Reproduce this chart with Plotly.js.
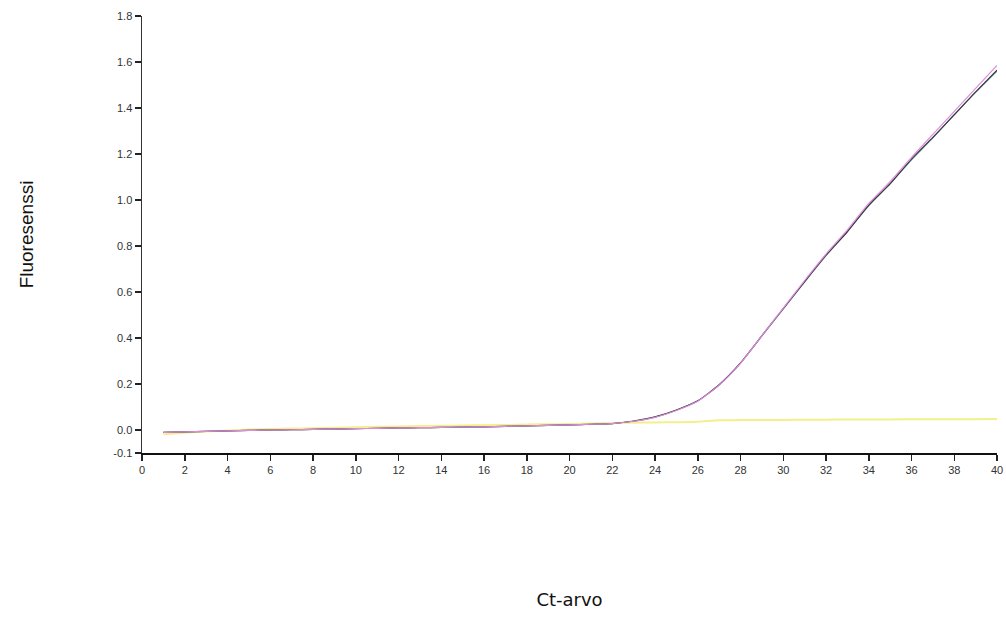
<!DOCTYPE html>
<html>
<head>
<meta charset="utf-8">
<script src="https://cdn.plot.ly/plotly-3.0.1.min.js"></script>
<style>html,body{margin:0;padding:0;background:#fff;}#chart{width:1006px;height:628px;}</style>
</head>
<body>
<div id="chart"></div>
<script>
// Cycle numbers
const cycles = [1,2,3,4,5,6,7,8,9,10,11,12,13,14,15,16,17,18,19,20,21,22,23,24,25,26,27,28,29,30,31,32,33,34,35,36,37,38,39,40];

// Amplification curves (fluorescence)
const pinkSeries = [-0.010,-0.008,-0.006,-0.004,-0.002,0.000,0.001,0.003,0.004,0.006,0.007,0.009,0.010,0.011,0.013,0.014,0.016,0.018,0.020,0.022,0.025,0.028,0.038,0.055,0.085,0.125,0.195,0.290,0.410,0.530,0.650,0.765,0.870,0.985,1.080,1.185,1.285,1.385,1.485,1.585];
const blackSeries = [-0.010,-0.008,-0.006,-0.004,-0.002,0.000,0.001,0.003,0.004,0.006,0.007,0.009,0.010,0.011,0.013,0.014,0.016,0.018,0.020,0.022,0.025,0.028,0.039,0.057,0.087,0.127,0.197,0.292,0.410,0.528,0.645,0.760,0.862,0.978,1.070,1.178,1.272,1.370,1.470,1.565];
const tealSeries = [-0.010,-0.008,-0.006,-0.004,-0.002,0.000,0.001,0.003,0.004,0.006,0.007,0.009,0.010,0.011,0.013,0.014,0.016,0.018,0.020,0.022,0.025,0.028,0.038,0.056,0.086,0.126,0.196,0.291,0.409,0.527,0.644,0.758,0.865,0.975,1.072,1.175,1.270,1.372,1.468,1.560];
const yellowSeries = [-0.018,-0.012,-0.006,-0.002,0.002,0.004,0.006,0.008,0.010,0.012,0.014,0.015,0.017,0.018,0.020,0.021,0.022,0.024,0.025,0.026,0.028,0.030,0.032,0.033,0.034,0.036,0.042,0.043,0.044,0.044,0.045,0.045,0.046,0.046,0.046,0.047,0.047,0.047,0.047,0.048];

// Tick labels
const xTicks = [0,2,4,6,8,10,12,14,16,18,20,22,24,26,28,30,32,34,36,38,40];
const yTickVals = [-0.1,0,0.2,0.4,0.6,0.8,1.0,1.2,1.4,1.6,1.8];
const yTickText = ["-0.1","0.0","0.2","0.4","0.6","0.8","1.0","1.2","1.4","1.6","1.8"];

const lineShape = {shape: 'spline', smoothing: 0.6};
const traces = [
  {x: cycles, y: yellowSeries, mode: 'lines', line: Object.assign({color: '#f3ef8a', width: 2}, lineShape), hoverinfo: 'skip'},
  {x: cycles, y: tealSeries, mode: 'lines', line: Object.assign({color: '#6a9e9a', width: 1.2}, lineShape), hoverinfo: 'skip'},
  {x: cycles, y: blackSeries, mode: 'lines', line: Object.assign({color: '#3a3a3a', width: 1.2}, lineShape), hoverinfo: 'skip'},
  {x: cycles, y: pinkSeries, mode: 'lines', line: Object.assign({color: '#e08ae0', width: 1.2}, lineShape), hoverinfo: 'skip'}
];

const layout = {
  width: 1006, height: 628,
  margin: {l: 142, r: 9, t: 16, b: 175},
  paper_bgcolor: '#ffffff', plot_bgcolor: '#ffffff',
  showlegend: false,
  xaxis: {
    range: [0, 40], tickvals: xTicks, ticktext: xTicks.map(String),
    showgrid: false, zeroline: false,
    showline: true, linecolor: '#111', linewidth: 2,
    ticks: 'outside', ticklen: 6, tickwidth: 1.5, tickcolor: '#222',
    tickfont: {family: 'Liberation Sans, Arial, sans-serif', size: 11, color: '#333'},
    title: {text: 'Ct-arvo', font: {family: 'DejaVu Sans, Verdana, sans-serif', size: 18, color: '#111'}, standoff: 118}
  },
  yaxis: {
    range: [-0.1, 1.8], tickvals: yTickVals, ticktext: yTickText,
    showgrid: false, zeroline: false,
    showline: true, linecolor: '#333', linewidth: 1.5,
    ticks: 'outside', ticklen: 6, tickwidth: 1.5, tickcolor: '#222',
    tickfont: {family: 'Liberation Sans, Arial, sans-serif', size: 11, color: '#333'},
    title: {text: 'Fluoresenssi', font: {family: 'Liberation Sans, Arial, sans-serif', size: 19, color: '#111'}, standoff: 74}
  }
};

Plotly.newPlot('chart', traces, layout, {displayModeBar: false, staticPlot: true});
</script>
</body>
</html>
